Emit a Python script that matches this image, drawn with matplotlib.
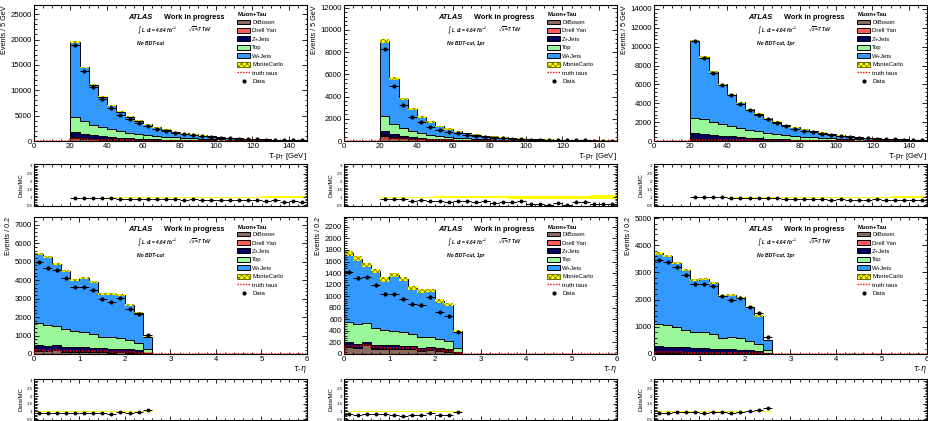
import numpy as np
import matplotlib.pyplot as plt
from matplotlib.patches import Patch
from matplotlib.lines import Line2D
from matplotlib.ticker import MultipleLocator, AutoMinorLocator, FuncFormatter

plt.rcParams['font.family'] = ['Liberation Sans', 'DejaVu Sans']
plt.rcParams['hatch.linewidth'] = 0.5

# BINNING
pt_edges = np.arange(20, 151, 5)
eta_edges = np.round(np.arange(0, 2.61, 0.2), 2)

# TAU PT, ALL PRONGS
pt_all_diboson = [530, 390, 310, 250, 205, 165, 137, 113, 94, 78, 64, 54, 45, 38, 32, 27, 23, 20, 17, 14, 12, 11, 9, 8, 6, 5]
pt_all_drellyan = [210, 170, 140, 115, 95, 80, 66, 55, 46, 38, 32, 27, 22, 19, 16, 14, 12, 10, 9, 8, 7, 5, 5, 4, 4, 3]
pt_all_zjets = [980, 800, 660, 555, 460, 385, 327, 277, 235, 199, 164, 135, 116, 97, 83, 70, 59, 50, 42, 35, 29, 25, 20, 18, 16, 14]
pt_all_top = [2980, 2490, 2110, 1780, 1520, 1300, 1100, 935, 795, 675, 575, 484, 407, 346, 291, 247, 212, 176, 150, 128, 106, 88, 75, 63, 52, 43]
pt_all_wjets = [14900, 10650, 7880, 6050, 4720, 3820, 3150, 2620, 2110, 1710, 1395, 1080, 910, 800, 678, 562, 484, 394, 372, 275, 236, 201, 151, 137, 122, 95]
pt_all_data = [18850, 13750, 10550, 8200, 6500, 5150, 4300, 3550, 2920, 2380, 1960, 1600, 1290, 1120, 935, 780, 665, 520, 490, 370, 320, 250, 210, 165, 155, 110]
pt_all_truth = [400, 305, 245, 203, 167, 137, 114, 95, 78, 65, 54, 46, 38, 32, 27, 23, 20, 17, 15, 13, 11, 9, 8, 7, 6, 5]
pt_all_mcerr = [0.01, 0.01, 0.012, 0.012, 0.014, 0.015, 0.016, 0.018, 0.02, 0.022, 0.024, 0.026, 0.028, 0.03, 0.032, 0.035, 0.037, 0.04, 0.042, 0.045, 0.048, 0.05, 0.055, 0.06, 0.065, 0.07]

# TAU PT, 1 PRONG
pt_1p_diboson = [430, 300, 230, 180, 145, 115, 95, 77, 64, 53, 43, 36, 30, 25, 21, 18, 15, 13, 11, 9, 8, 7, 6, 5, 4, 3]
pt_1p_drellyan = [110, 80, 60, 45, 35, 30, 23, 19, 16, 13, 11, 9, 7, 6, 5, 4, 4, 3, 3, 3, 2, 1, 1, 1, 1, 1]
pt_1p_zjets = [360, 240, 170, 135, 100, 75, 62, 49, 40, 34, 26, 21, 18, 15, 13, 11, 9, 8, 6, 5, 4, 4, 3, 3, 3, 3]
pt_1p_top = [1350, 930, 710, 540, 420, 330, 270, 215, 170, 140, 115, 94, 75, 64, 53, 45, 38, 32, 28, 23, 20, 17, 14, 12, 10, 8]
pt_1p_wjets = [6750, 4050, 2630, 1950, 1430, 1130, 870, 720, 590, 480, 385, 300, 260, 220, 188, 152, 129, 109, 97, 75, 64, 53, 41, 36, 32, 25]
pt_1p_data = [8250, 4950, 3280, 2200, 1700, 1250, 990, 770, 680, 555, 410, 355, 245, 235, 190, 175, 110, 92, 78, 75, 51, 60, 47, 33, 30, 22]
pt_1p_truth = [270, 190, 145, 115, 92, 74, 60, 49, 40, 33, 27, 23, 19, 16, 13, 11, 10, 8, 7, 6, 5, 4, 4, 3, 3, 2]
pt_1p_mcerr = [0.02, 0.025, 0.03, 0.035, 0.04, 0.045, 0.05, 0.055, 0.06, 0.06, 0.065, 0.07, 0.07, 0.075, 0.08, 0.08, 0.085, 0.09, 0.09, 0.1, 0.1, 0.11, 0.11, 0.12, 0.12, 0.13]

# TAU PT, 3 PRONG
pt_3p_diboson = [100, 90, 80, 70, 60, 50, 42, 36, 30, 25, 21, 18, 15, 13, 11, 9, 8, 7, 6, 5, 4, 4, 3, 3, 2, 2]
pt_3p_drellyan = [100, 90, 80, 70, 60, 50, 43, 36, 30, 25, 21, 18, 15, 13, 11, 10, 8, 7, 6, 5, 5, 4, 4, 3, 3, 2]
pt_3p_zjets = [620, 560, 490, 420, 360, 310, 265, 228, 195, 165, 138, 114, 98, 82, 70, 59, 50, 42, 36, 30, 25, 21, 17, 15, 13, 11]
pt_3p_top = [1630, 1560, 1400, 1240, 1100, 970, 830, 720, 625, 535, 460, 390, 332, 282, 238, 202, 174, 144, 122, 105, 86, 71, 61, 51, 42, 35]
pt_3p_wjets = [8190, 6600, 5260, 4210, 3370, 2720, 2210, 1880, 1520, 1300, 1060, 910, 780, 670, 550, 460, 360, 300, 250, 205, 170, 150, 125, 108, 90, 75]
pt_3p_data = [10550, 8800, 7250, 5950, 4850, 3950, 3300, 2780, 2280, 1900, 1560, 1300, 1090, 920, 760, 630, 520, 430, 360, 300, 250, 215, 180, 150, 125, 105]
pt_3p_truth = [130, 115, 100, 88, 75, 63, 54, 46, 38, 32, 27, 23, 19, 16, 14, 12, 10, 9, 8, 7, 6, 5, 4, 4, 3, 3]
pt_3p_mcerr = [0.01, 0.01, 0.012, 0.012, 0.014, 0.015, 0.016, 0.018, 0.02, 0.022, 0.024, 0.026, 0.028, 0.03, 0.032, 0.034, 0.036, 0.038, 0.04, 0.042, 0.045, 0.048, 0.05, 0.055, 0.06, 0.065]

# TAU ETA, ALL PRONGS
eta_all_diboson = [160, 140, 190, 130, 120, 115, 113, 110, 80, 87, 75, 55, 20]
eta_all_drellyan = [45, 40, 48, 37, 32, 32, 30, 28, 25, 24, 21, 16, 7]
eta_all_zjets = [285, 265, 232, 233, 218, 213, 197, 182, 170, 174, 149, 119, 53]
eta_all_top = [1170, 1135, 1040, 935, 860, 840, 760, 625, 630, 590, 490, 400, 175]
eta_all_wjets = [3770, 3670, 3380, 3175, 2780, 2930, 2800, 2325, 2345, 2320, 1935, 1650, 685]
eta_all_data = [4960, 4680, 4530, 4100, 3610, 3610, 3450, 3000, 2800, 3030, 2450, 2170, 1010]
eta_all_truth = [200, 188, 210, 172, 156, 150, 142, 138, 111, 114, 100, 73, 28]
eta_all_mcerr = [0.012, 0.012, 0.012, 0.013, 0.014, 0.014, 0.014, 0.015, 0.015, 0.015, 0.017, 0.018, 0.03]

# TAU ETA, 1 PRONG
eta_1p_diboson = [120, 100, 150, 95, 90, 85, 85, 85, 55, 65, 55, 40, 15]
eta_1p_drellyan = [15, 12, 18, 12, 10, 10, 10, 10, 8, 8, 7, 5, 3]
eta_1p_zjets = [65, 63, 42, 53, 50, 55, 45, 45, 42, 47, 43, 35, 22]
eta_1p_top = [350, 340, 320, 295, 260, 255, 240, 205, 190, 180, 150, 140, 70]
eta_1p_wjets = [1190, 1135, 1010, 975, 880, 965, 920, 790, 800, 800, 660, 630, 290]
eta_1p_data = [1420, 1315, 1330, 1190, 1045, 1040, 960, 865, 850, 985, 720, 650, 385]
eta_1p_truth = [140, 130, 150, 120, 110, 105, 100, 100, 75, 80, 70, 50, 20]
eta_1p_mcerr = [0.025, 0.025, 0.025, 0.025, 0.028, 0.028, 0.028, 0.03, 0.03, 0.03, 0.032, 0.032, 0.045]

# TAU ETA, 3 PRONG
eta_3p_diboson = [40, 40, 40, 35, 30, 30, 28, 25, 25, 22, 20, 15, 5]
eta_3p_drellyan = [30, 28, 30, 25, 22, 22, 20, 18, 17, 16, 14, 11, 4]
eta_3p_zjets = [220, 202, 190, 180, 168, 158, 152, 137, 128, 127, 106, 84, 31]
eta_3p_top = [820, 795, 720, 640, 600, 585, 520, 420, 440, 410, 340, 260, 105]
eta_3p_wjets = [2590, 2545, 2370, 2200, 1900, 1975, 1880, 1530, 1555, 1505, 1260, 1030, 370]
eta_3p_data = [3450, 3370, 3200, 2910, 2570, 2570, 2485, 2120, 1970, 2070, 1740, 1505, 640]
eta_3p_truth = [60, 58, 60, 52, 46, 45, 42, 38, 36, 34, 30, 23, 8]
eta_3p_mcerr = [0.012, 0.012, 0.012, 0.013, 0.014, 0.014, 0.014, 0.015, 0.015, 0.016, 0.017, 0.018, 0.035]

# STYLE
names = ['DiBoson', 'Drell Yan', 'Z+Jets', 'Top', 'W+Jets']
colors = ['#8c6b5c', '#ff5c5c', '#00005e', '#99f799', '#3399ff']
mc_face = '#ffff00'
mc_hatch = '#6b6b00'

pt_setup = dict(edges=pt_edges, xlim=(0, 150), step=5, xmajor=20, xminor=4,
                xlabel=r'$\tau$-p$_{\rm T}$ [GeV]', ylabel='Events / 5 GeV')
eta_setup = dict(edges=eta_edges, xlim=(0, 6), step=0.2, xmajor=1, xminor=5,
                 xlabel=r'$\tau$-$\eta$', ylabel='Events / 0.2')

panels = [
    dict(pt_setup, comps=[pt_all_diboson, pt_all_drellyan, pt_all_zjets, pt_all_top, pt_all_wjets],
         data=pt_all_data, truth=pt_all_truth, err=pt_all_mcerr, ymax=26800, ymajor=5000, tag='No BDT-cut'),
    dict(pt_setup, comps=[pt_1p_diboson, pt_1p_drellyan, pt_1p_zjets, pt_1p_top, pt_1p_wjets],
         data=pt_1p_data, truth=pt_1p_truth, err=pt_1p_mcerr, ymax=12240, ymajor=2000, tag='No BDT-cut, 1pr'),
    dict(pt_setup, comps=[pt_3p_diboson, pt_3p_drellyan, pt_3p_zjets, pt_3p_top, pt_3p_wjets],
         data=pt_3p_data, truth=pt_3p_truth, err=pt_3p_mcerr, ymax=14420, ymajor=2000, tag='No BDT-cut, 3pr'),
    dict(eta_setup, comps=[eta_all_diboson, eta_all_drellyan, eta_all_zjets, eta_all_top, eta_all_wjets],
         data=eta_all_data, truth=eta_all_truth, err=eta_all_mcerr, ymax=7420, ymajor=1000, tag='No BDT-cut'),
    dict(eta_setup, comps=[eta_1p_diboson, eta_1p_drellyan, eta_1p_zjets, eta_1p_top, eta_1p_wjets],
         data=eta_1p_data, truth=eta_1p_truth, err=eta_1p_mcerr, ymax=2370, ymajor=200, tag='No BDT-cut, 1pr'),
    dict(eta_setup, comps=[eta_3p_diboson, eta_3p_drellyan, eta_3p_zjets, eta_3p_top, eta_3p_wjets],
         data=eta_3p_data, truth=eta_3p_truth, err=eta_3p_mcerr, ymax=5040, ymajor=1000, tag='No BDT-cut, 3pr'),
]

W, H = 929, 421
fig = plt.figure(figsize=(W / 100, H / 100), dpi=100)
lefts = [34, 344, 654]
width = 273
rows = [(5, 141, 164, 206), (217, 354, 379, 420)]


def px_axes(x0, y0, x1, y1):
    return fig.add_axes([x0 / W, 1 - y1 / H, (x1 - x0) / W, (y1 - y0) / H])


def style(ax, p, ratio=False):
    ax.set_xlim(*p['xlim'])
    ax.xaxis.set_major_locator(MultipleLocator(p['xmajor']))
    ax.xaxis.set_minor_locator(AutoMinorLocator(p['xminor']))
    ax.tick_params(which='both', direction='in', top=True, right=True, width=0.6,
                   labelsize=5.6, pad=1.5)
    ax.tick_params(which='major', length=3.5)
    ax.tick_params(which='minor', length=1.8)
    for s in ax.spines.values():
        s.set_linewidth(0.8)
    if ratio:
        ax.set_ylim(0.45, 3.1)
        ax.yaxis.set_major_locator(MultipleLocator(0.5))
        ax.yaxis.set_minor_locator(MultipleLocator(0.1))
        ax.yaxis.set_major_formatter(FuncFormatter(lambda v, _: '%g' % v))
        ax.tick_params(axis='y', labelsize=3.2, pad=1)
        ax.tick_params(axis='x', labelbottom=False)
        ax.tick_params(which='major', length=3)
        ax.set_ylabel('Data/MC', fontsize=4.3, labelpad=2)
    else:
        ax.set_ylim(0, p['ymax'])
        ax.yaxis.set_major_locator(MultipleLocator(p['ymajor']))
        ax.yaxis.set_minor_locator(AutoMinorLocator(5))
        ax.set_xlabel(p['xlabel'], fontsize=5.6, loc='right', labelpad=1)
        ax.set_ylabel(p['ylabel'], fontsize=5.2, loc='top', labelpad=2)


handles = [Patch(facecolor=c, edgecolor='black', linewidth=0.7) for c in colors]
handles.append(Patch(facecolor=mc_face, edgecolor=mc_hatch, hatch='xxxxxx', linewidth=0.7))
handles.append(Line2D([], [], color='red', linestyle=(0, (1, 1)), linewidth=1))
handles.append(Line2D([], [], color='black', marker='o', markersize=2, linestyle='none'))
labels = names + ['MonteCarlo', 'truth taus', 'Data']

for i, p in enumerate(panels):
    col, row = i % 3, i // 3
    x0 = lefts[col]
    top, bot, rtop, rbot = rows[row]
    ax = px_axes(x0, top, x0 + width, bot)
    rax = px_axes(x0, rtop, x0 + width, rbot)

    edges = p['edges']
    centers = 0.5 * (edges[1:] + edges[:-1])
    half = 0.5 * np.diff(edges)
    cum = np.cumsum(np.array(p['comps'], dtype=float), axis=0)
    total = cum[-1]
    data = np.array(p['data'], dtype=float)
    relerr = np.array(p['err'])

    # STACK
    for level, c in reversed(list(zip(cum, colors))):
        ax.stairs(level, edges, fill=True, facecolor=c, edgecolor='black', linewidth=0.7)
    ax.stairs(total * (1 + relerr), edges, baseline=total * (1 - relerr), fill=True,
              facecolor=mc_face, edgecolor=mc_hatch, hatch='xxxxxx', linewidth=0)

    # TRUTH TAUS OVER FULL RANGE
    full_edges = np.arange(p['xlim'][0], p['xlim'][1] + p['step'] / 2, p['step'])
    full_truth = np.zeros(len(full_edges) - 1)
    i0 = int(round((edges[0] - p['xlim'][0]) / p['step']))
    full_truth[i0:i0 + len(p['truth'])] = p['truth']
    ax.stairs(full_truth, full_edges, color='red', linestyle=(0, (1, 1)), linewidth=1.1, zorder=4)

    # DATA
    ax.errorbar(centers, data, xerr=half, yerr=np.sqrt(data), fmt='o', color='black',
                markersize=2, elinewidth=0.7, capsize=0, zorder=5)

    # TEXT
    ax.text(0.344, 0.91, 'ATLAS', transform=ax.transAxes, fontsize=5.3,
            fontweight='bold', style='italic', va='center')
    ax.text(0.477, 0.91, 'Work in progress', transform=ax.transAxes, fontsize=5.3,
            fontweight='bold', va='center')
    ax.text(0.377, 0.815, r'$\int$ L dt = 4.64 fb$^{-1}$', transform=ax.transAxes,
            fontsize=3.4, style='italic', fontweight='bold', va='center')
    ax.text(0.564, 0.815, r'$\sqrt{s}$=7 TeV', transform=ax.transAxes,
            fontsize=3.4, style='italic', fontweight='bold', va='center')
    ax.text(0.377, 0.72, p['tag'], transform=ax.transAxes, fontsize=3.6,
            style='italic', fontweight='bold', va='center')

    leg = ax.legend(handles, labels, loc='upper left', bbox_to_anchor=(0.745, 0.945),
                    frameon=False, fontsize=4.3, title='Muon+Tau', alignment='left',
                    title_fontproperties={'weight': 'bold', 'size': 4.3},
                    handlelength=2.1, handleheight=0.85, labelspacing=0.5,
                    handletextpad=0.35, borderpad=0, borderaxespad=0)
    leg._legend_box.sep = 1.5

    style(ax, p)

    # RATIO
    ratio = data / total
    rerr = np.sqrt(data) / total
    rax.stairs(1 + relerr, edges, baseline=1 - relerr, fill=True, color=mc_face, linewidth=0)
    rax.errorbar(centers, ratio, xerr=half, yerr=rerr, fmt='o', color='black',
                 markersize=1.8, elinewidth=0.7, capsize=0, zorder=5)
    style(rax, p, ratio=True)

fig.savefig('out.png', dpi=100)
